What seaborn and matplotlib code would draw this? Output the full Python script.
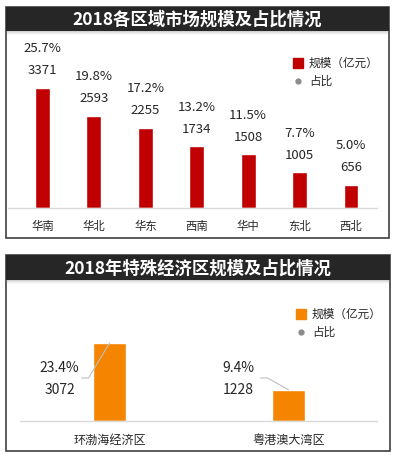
import matplotlib
matplotlib.use("Agg")
import matplotlib.pyplot as plt
import seaborn as sns
from matplotlib.patches import Rectangle
from matplotlib.lines import Line2D

# chart data
regions = ["华南", "华北", "华东", "西南", "华中", "东北", "西北"]
region_size = [3371, 2593, 2255, 1734, 1508, 1005, 656]
region_share = ["25.7%", "19.8%", "17.2%", "13.2%", "11.5%", "7.7%", "5.0%"]

zones = ["环渤海经济区", "粤港澳大湾区"]
zone_size = [3072, 1228]
zone_share = ["23.4%", "9.4%"]

title_1 = "2018各区域市场规模及占比情况"
title_2 = "2018年特殊经济区规模及占比情况"
legend_labels = ["规模（亿元）", "占比"]

RED = "#C00000"
ORANGE = "#F58400"
DOT = "#8C8C8C"
TXT = "#262626"

sns.set_theme(style="white")
plt.rcParams["font.family"] = ["Noto Sans CJK SC", "DejaVu Sans"]

W, H = 399, 461
fig = plt.figure(figsize=(W / 100, H / 100), dpi=100)


def fx(x):
    return x / W


def fy(y):
    return 1 - y / H


def px_axes(x0, y0, x1, y1):
    return fig.add_axes([fx(x0), fy(y1), (x1 - x0) / W, (y1 - y0) / H])


def panel(x0, y0, x1, y1, bar_bottom, title, ty):
    # outer frame
    fig.add_artist(Rectangle((fx(x0), fy(y1)), (x1 - x0) / W, (y1 - y0) / H,
                             transform=fig.transFigure, facecolor="white",
                             edgecolor="#404040", lw=1.2, zorder=-2))
    # soft shadow under the title bar
    for k, a in enumerate([0.35, 0.22, 0.12, 0.05]):
        fig.add_artist(Rectangle((fx(x0), fy(bar_bottom + k + 1)), (x1 - x0) / W, 1 / H,
                                 transform=fig.transFigure, facecolor="#7F7F7F",
                                 edgecolor="none", alpha=a, zorder=3))
    fig.add_artist(Rectangle((fx(x0), fy(bar_bottom)), (x1 - x0) / W, (bar_bottom - y0) / H,
                             transform=fig.transFigure, facecolor="#262626",
                             edgecolor="none", zorder=3))
    fig.text(fx((x0 + x1) / 2), fy(ty), title, color="white", fontsize=12.5,
             fontweight="bold", ha="center", va="center", zorder=4)


def style_axes(ax, pad, size):
    for s in ["top", "left", "right"]:
        ax.spines[s].set_visible(False)
    ax.spines["bottom"].set_color("#D9D9D9")
    ax.spines["bottom"].set_linewidth(1)
    ax.set_facecolor("none")
    ax.set_yticks([])
    ax.set_xlabel("")
    ax.set_ylabel("")
    ax.tick_params(axis="x", length=0, pad=pad, labelsize=size, colors=TXT)


def add_legend(ax, color, x, y, size):
    handles = [
        Line2D([], [], marker="s", linestyle="none", color=color, markersize=7),
        Line2D([], [], marker="o", linestyle="none", color=DOT, markersize=3.5),
    ]
    ax.legend(handles, legend_labels, loc="upper left", bbox_to_anchor=(fx(x), fy(y)),
              bbox_transform=fig.transFigure, frameon=False, fontsize=size,
              handlelength=1.0, handletextpad=0.45, labelspacing=0.45,
              borderpad=0, borderaxespad=0, labelcolor=TXT)


# ---- panel 1: regions ----
panel(6, 7, 389, 238, 31, title_1, 19.5)
ax1 = px_axes(8, 31, 377, 208)
sns.barplot(x=regions, y=region_size, color=RED, saturation=1, width=0.29, ax=ax1)
ax1.set_xlim(-0.671, 6.505)
ax1.set_ylim(0, 4972)
style_axes(ax1, 9, 8.2)
for i, (v, s) in enumerate(zip(region_size, region_share)):
    ax1.annotate(str(v), (i, v), xytext=(0, 17), textcoords="offset pixels",
                 ha="center", va="center", fontsize=9.5, color=TXT)
    ax1.annotate(s, (i, v), xytext=(0, 39), textcoords="offset pixels",
                 ha="center", va="center", fontsize=9.5, color=TXT)
add_legend(ax1, RED, 292, 57, 8.4)

# ---- panel 2: special economic zones ----
panel(6, 255, 390, 451, 280, title_2, 268.5)
ax2 = px_axes(20, 280, 377, 421)
sns.barplot(x=zones, y=zone_size, color=ORANGE, saturation=1, width=0.184, ax=ax2)
ax2.set_xlim(-0.5, 1.494)
ax2.set_ylim(0, 5553)
style_axes(ax2, 9.5, 8.7)
px_x = 1 / 179
px_y = 5553 / 141
value_y = 31 * px_y
share_y = 53 * px_y
lead_y = 43 * px_y
for i, (v, s) in enumerate(zip(zone_size, zone_share)):
    cx = i - 50 * px_x
    ax2.text(cx, value_y, str(v), ha="center", va="center", fontsize=10, color=TXT)
    ax2.text(cx, share_y, s, ha="center", va="center", fontsize=10, color=TXT)
    ax2.plot([i - 28 * px_x, i - 21 * px_x, i], [lead_y, lead_y, v],
             color="#BFBFBF", lw=0.8)
add_legend(ax2, ORANGE, 295, 308, 8.4)

fig.savefig("out.png", dpi=100, facecolor="white")
